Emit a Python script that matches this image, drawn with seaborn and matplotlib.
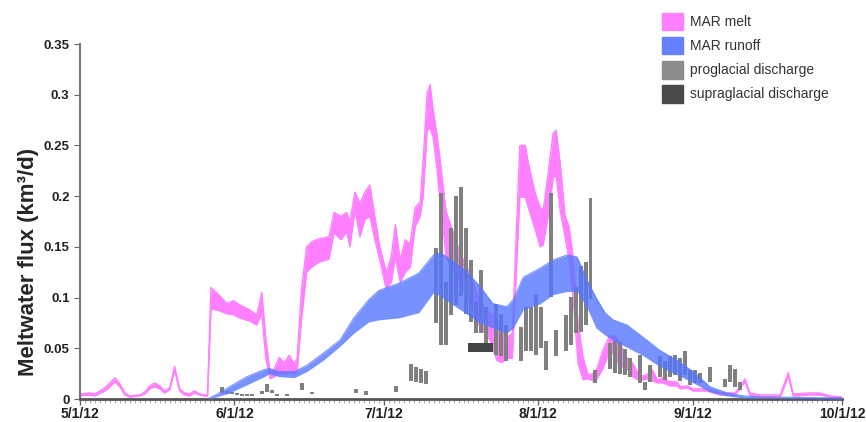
import numpy as np
import pandas as pd
import seaborn as sns
import matplotlib
matplotlib.use("Agg")
import matplotlib.pyplot as plt
import matplotlib.dates as mdates
from matplotlib.patches import Patch
from matplotlib.ticker import MultipleLocator, FormatStrFormatter

# days after 5/1/2012
melt_days = [0, 2, 3, 5, 6, 7, 8, 9, 10, 12, 13, 14, 15, 16, 17, 18, 19, 20, 21, 22, 23, 24, 25, 25.6,
             26.3, 28, 29.5, 30.8, 32, 34, 35.5, 36.5, 37.3, 38.2, 39, 40, 41, 42, 43, 43.6,
             44.5, 45.5, 46.5, 48, 50, 51, 52.4, 53.5, 54.2, 55.2, 56.2, 57.2, 58.2, 59.2, 60.2,
             61.5, 62.5, 63.3, 64.3, 65.3, 66.3, 67.3, 68.3, 68.9, 69.7, 70.3, 70.9, 71.7, 72.3,
             73.5, 76.3, 78.3, 80.3, 82.3, 83.7, 84.7, 85.7, 86.8, 88.3, 89.4, 90, 91.4, 92.4, 93,
             94, 95, 95.6, 96.4, 97.4, 98.2, 99, 100, 101, 102, 103, 103.8, 105, 106.4, 107.4,
             108.4, 109.8, 111, 112.4, 113.9, 114.9, 115.9, 117, 118.5, 119.9, 120.5, 121.9,
             123.1, 125.9, 128.5, 131.5, 132.5, 133.5, 134.5, 136.5, 140.6, 142.2, 143.2,
             146.6, 148.6, 150.6, 153]
melt_lo = [0.003, 0.004, 0.003, 0.008, 0.012, 0.017, 0.012, 0.004, 0.002, 0.003, 0.005, 0.010, 0.012,
           0.010, 0.006, 0.009, 0.028, 0.008, 0.004, 0.003, 0.006, 0.004, 0.003, 0.003,
           0.089, 0.087, 0.084, 0.083, 0.080, 0.077, 0.073, 0.085, 0.040, 0.020, 0.022, 0.025,
           0.024, 0.026, 0.025, 0.028,
           0.080, 0.125, 0.130, 0.135, 0.138, 0.164, 0.157, 0.165, 0.150, 0.186, 0.160, 0.177,
           0.180, 0.157, 0.137,
           0.108, 0.115, 0.140, 0.115, 0.125, 0.130, 0.170, 0.180, 0.200, 0.265, 0.267, 0.258,
           0.226, 0.193,
           0.140, 0.114, 0.095, 0.071, 0.058, 0.038, 0.036, 0.040, 0.040, 0.199, 0.199, 0.189,
           0.167, 0.150, 0.152,
           0.180, 0.218, 0.220, 0.186, 0.160, 0.137, 0.100, 0.035, 0.019, 0.020, 0.018, 0.020,
           0.030, 0.048, 0.042,
           0.032, 0.030, 0.022, 0.018, 0.020, 0.018, 0.016, 0.016, 0.013, 0.013, 0.010, 0.011,
           0.008, 0.008, 0.004, 0.004, 0.010, 0.017, 0.004, 0.002, 0.002, 0.022, 0.003,
           0.004, 0.004, 0.002, 0.001]
melt_hi = [0.005, 0.006, 0.005, 0.011, 0.016, 0.021, 0.015, 0.006, 0.003, 0.004, 0.007, 0.013, 0.016,
           0.013, 0.008, 0.011, 0.032, 0.010, 0.006, 0.005, 0.008, 0.005, 0.004, 0.004,
           0.110, 0.102, 0.094, 0.097, 0.093, 0.088, 0.083, 0.105, 0.060, 0.025, 0.030, 0.041,
           0.036, 0.043, 0.035, 0.040,
           0.110, 0.150, 0.155, 0.158, 0.160, 0.184, 0.180, 0.184, 0.175, 0.204, 0.193, 0.204,
           0.211, 0.180, 0.150,
           0.125, 0.140, 0.172, 0.137, 0.157, 0.153, 0.189, 0.194, 0.236, 0.302, 0.310, 0.285,
           0.260, 0.236,
           0.185, 0.144, 0.124, 0.095, 0.085, 0.078, 0.068, 0.060, 0.065, 0.250, 0.250, 0.233,
           0.203, 0.189, 0.186,
           0.223, 0.262, 0.265, 0.233, 0.180, 0.170, 0.140, 0.075, 0.041, 0.024, 0.025, 0.030,
           0.048, 0.063, 0.062,
           0.055, 0.041, 0.035, 0.022, 0.024, 0.029, 0.019, 0.021, 0.017, 0.017, 0.012, 0.013,
           0.010, 0.010, 0.006, 0.006, 0.012, 0.020, 0.006, 0.004, 0.004, 0.026, 0.005,
           0.006, 0.006, 0.003, 0.002]

runoff_days = [26, 28, 30, 33.5, 37, 38, 40, 43, 45.5, 48.8, 52.2, 55, 58, 60, 64, 68, 71, 72.5,
               74.5, 77.3, 80.3, 82.9, 85.7, 87, 89, 92.4, 95, 97.8, 99.8, 101.8, 103.6, 105.4,
               107, 109.8, 113, 116.4, 119.9, 123.1, 126.5, 129.9, 133.3, 137, 153]
runoff_lo = [0.000, 0.003, 0.006, 0.014, 0.022, 0.025, 0.022, 0.021, 0.027, 0.038, 0.052, 0.065,
             0.076, 0.078, 0.080, 0.085, 0.105, 0.101, 0.094, 0.085, 0.075, 0.070, 0.065, 0.070,
             0.088, 0.094, 0.103, 0.106, 0.106, 0.090, 0.070, 0.063, 0.058, 0.051, 0.043, 0.032,
             0.024, 0.016, 0.007, 0.003, 0.001, 0.001, 0.000]
runoff_hi = [0.001, 0.006, 0.012, 0.022, 0.029, 0.030, 0.027, 0.027, 0.033, 0.045, 0.058, 0.080,
             0.098, 0.107, 0.114, 0.124, 0.142, 0.144, 0.137, 0.127, 0.111, 0.094, 0.091, 0.098,
             0.120, 0.129, 0.137, 0.142, 0.140, 0.117, 0.100, 0.085, 0.078, 0.073, 0.061, 0.048,
             0.038, 0.027, 0.012, 0.006, 0.003, 0.002, 0.001]

pro_days = [28, 29, 30, 31, 32, 33, 34, 36, 37, 38, 39, 41, 44, 46, 55, 57, 63, 66, 67, 68, 69,
            71, 72, 73, 74, 75, 76, 77, 78, 79, 80, 81, 83, 84, 85,
            88, 89, 90, 91, 92, 93, 94, 95, 97, 98, 99, 100, 101, 102, 103,
            106, 107, 108, 109, 110, 112, 113, 114, 116, 117, 118, 119, 120, 121, 122, 123, 124,
            126, 129, 130, 131, 132]
pro_lo = [0.006, 0.005, 0.005, 0.004, 0.003, 0.003, 0.003, 0.005, 0.007, 0.006, 0.003, 0.003,
          0.009, 0.005, 0.006, 0.004, 0.007, 0.018, 0.017, 0.016, 0.015,
          0.075, 0.053, 0.053, 0.083, 0.093, 0.102, 0.084, 0.076, 0.065, 0.065, 0.047, 0.043,
          0.042, 0.037,
          0.037, 0.047, 0.047, 0.043, 0.050, 0.029, 0.101, 0.042, 0.047, 0.053, 0.065, 0.066,
          0.073, 0.099, 0.016,
          0.030, 0.026, 0.025, 0.024, 0.022, 0.016, 0.009, 0.017, 0.022, 0.019, 0.022, 0.024,
          0.018, 0.024, 0.014, 0.016, 0.016,
          0.017, 0.012, 0.017, 0.012, 0.009]
pro_hi = [0.012, 0.008, 0.007, 0.006, 0.005, 0.005, 0.005, 0.008, 0.015, 0.009, 0.005, 0.005,
          0.016, 0.007, 0.010, 0.008, 0.013, 0.035, 0.032, 0.030, 0.028,
          0.149, 0.203, 0.115, 0.169, 0.200, 0.209, 0.169, 0.137, 0.096, 0.127, 0.091, 0.094,
          0.084, 0.073,
          0.071, 0.091, 0.091, 0.103, 0.091, 0.057, 0.203, 0.068, 0.083, 0.101, 0.110, 0.131,
          0.135, 0.198, 0.029,
          0.055, 0.057, 0.056, 0.049, 0.040, 0.043, 0.017, 0.034, 0.042, 0.037, 0.042, 0.043,
          0.040, 0.047, 0.029, 0.029, 0.026,
          0.032, 0.020, 0.034, 0.030, 0.017]

supra_days = [78, 79, 80, 81, 82]
supra_lo = [0.046, 0.046, 0.046, 0.046, 0.046]
supra_hi = [0.055, 0.055, 0.055, 0.055, 0.055]

start = pd.Timestamp("2012-05-01")


def to_dates(days):
    return start + pd.to_timedelta(np.array(days, dtype=float), unit="D")


melt_df = pd.DataFrame({"date": to_dates(melt_days), "lo": melt_lo, "hi": melt_hi})
runoff_df = pd.DataFrame({"date": to_dates(runoff_days), "lo": runoff_lo, "hi": runoff_hi})

sns.set_style("ticks")
plt.rcParams["font.family"] = ["Liberation Sans", "DejaVu Sans"]

melt_c = "#ff80ff"
runoff_c = "#5577ff"
pro_c = "#808080"
supra_c = "#454545"

fig = plt.figure(figsize=(8.66, 4.22), dpi=100)
ax = fig.add_axes([0.0924, 0.0545, 0.8799, 0.8412])

ax.fill_between(melt_df["date"], melt_df["lo"], melt_df["hi"], color=melt_c, lw=0, zorder=1)
sns.lineplot(data=melt_df, x="date", y="hi", color=melt_c, lw=1, ax=ax, zorder=1)
sns.lineplot(data=melt_df, x="date", y="lo", color=melt_c, lw=1, ax=ax, zorder=1)

ax.bar(to_dates(np.array(pro_days) + 0.5), np.array(pro_hi) - np.array(pro_lo), bottom=pro_lo,
       width=0.8, color=pro_c, linewidth=0, zorder=2)

ax.fill_between(runoff_df["date"], runoff_df["lo"], runoff_df["hi"], color=runoff_c, alpha=0.8,
                lw=0, zorder=3)
sns.lineplot(data=runoff_df, x="date", y="hi", color=runoff_c, lw=0.8, alpha=0.8, ax=ax, zorder=3)

ax.bar(to_dates(supra_days), np.array(supra_hi) - np.array(supra_lo), bottom=supra_lo,
       width=1.0, align="edge", color=supra_c, linewidth=0, zorder=4)

ax.set_xlim(start, pd.Timestamp("2012-10-01"))
ax.set_ylim(0, 0.35)
ax.xaxis.set_major_locator(mdates.MonthLocator())
ax.xaxis.set_major_formatter(mdates.DateFormatter("%-m/%-d/%y"))
ax.xaxis.set_minor_locator(mdates.DayLocator())
ax.yaxis.set_major_locator(MultipleLocator(0.05))
ax.yaxis.set_major_formatter(FormatStrFormatter("%g"))

ax.set_xlabel("")
ax.set_ylabel("Meltwater flux (km³/d)", fontsize=16, fontweight="bold")
ax.yaxis.set_label_coords(-0.054, 0.386)
for lab in ax.get_xticklabels() + ax.get_yticklabels():
    lab.set_fontweight("bold")
ax.tick_params(axis="both", colors="#666666", labelcolor="#222222")
ax.tick_params(axis="x", which="major", length=4, width=1, pad=2, labelsize=10)
ax.tick_params(axis="x", which="minor", length=3, width=0.6, colors="#999999")
ax.tick_params(axis="y", length=4, labelsize=9.5)

sns.despine(ax=ax)
ax.spines["left"].set_color("#777777")
ax.spines["left"].set_linewidth(1.5)
ax.spines["bottom"].set_color("#555555")
ax.spines["bottom"].set_linewidth(2)

handles = [Patch(color=melt_c), Patch(color="#6680ff"), Patch(color="#8c8c8c"), Patch(color="#4a4a4a")]
labels = ["MAR melt", "MAR runoff", "proglacial discharge", "supraglacial discharge"]
fig.legend(handles, labels, loc="upper left", bbox_to_anchor=(0.75, 1.0), frameon=False,
           fontsize=10, handlelength=1.5, handleheight=1.6, handletextpad=0.5,
           labelspacing=0.45, labelcolor="#333333")

fig.savefig("out.png", dpi=100)
